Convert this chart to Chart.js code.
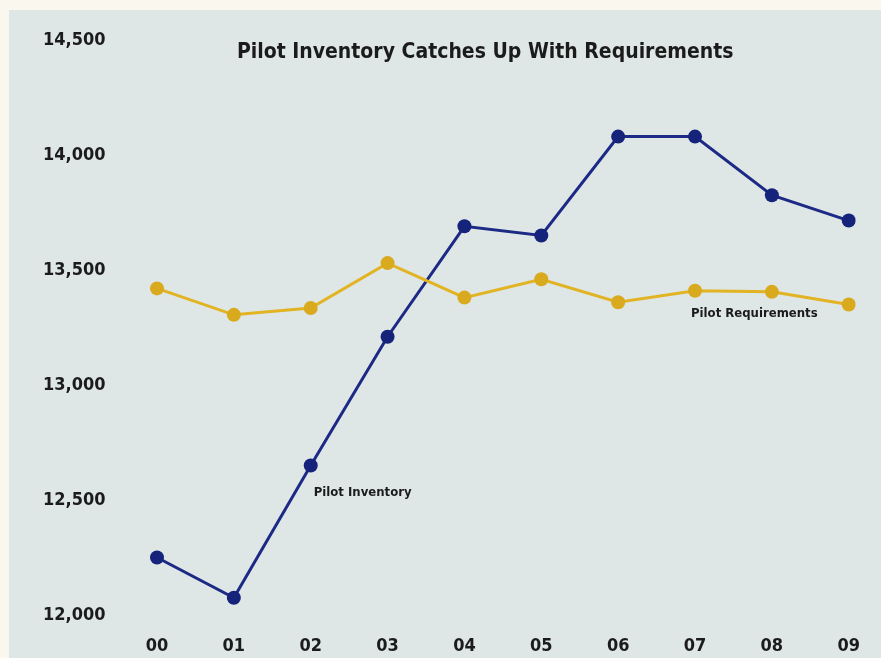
<!DOCTYPE html>
<html>
<head>
<meta charset="utf-8">
<script src="https://cdn.jsdelivr.net/npm/chart.js@4/dist/chart.umd.min.js"></script>
<style>
  html, body { margin: 0; padding: 0; background: #faf7ee; }
  #wrap {
    position: absolute; left: 9px; top: 10px;
    width: 872px; height: 648px;
    background: #dee7e6;
  }
</style>
</head>
<body>
<div id="wrap"><canvas id="pilotChart" width="872" height="648"></canvas></div>
<script>
var years = ['00', '01', '02', '03', '04', '05', '06', '07', '08', '09'];
var inventory = [12250, 12075, 12650, 13210, 13690, 13650, 14080, 14080, 13825, 13715];
var requirements = [13420, 13305, 13335, 13530, 13380, 13460, 13360, 13410, 13405, 13350];
var yTicks = [12000, 12500, 13000, 13500, 14000, 14500];

var FONT = '"Liberation Sans Narrow", "DejaVu Sans Condensed", "Roboto Condensed", sans-serif';

// title and series names sit inside the plot, so draw them by hand
var textPlugin = {
    id: 'insideText',
    afterDraw: function (chart) {
        var ctx = chart.ctx;
        var x = chart.scales.x;
        var y = chart.scales.y;
        ctx.save();
        ctx.fillStyle = '#1b1b1b';
        ctx.textBaseline = 'middle';

        ctx.font = 'bold 21px ' + FONT;
        ctx.textAlign = 'center';
        ctx.fillText('Pilot Inventory Catches Up With Requirements', x.getPixelForValue(4.27), chart.chartArea.top + 13);

        ctx.font = 'bold 13px ' + FONT;
        ctx.textAlign = 'left';
        ctx.fillText('Pilot Inventory', x.getPixelForValue(2) + 3, y.getPixelForValue(12530));
        ctx.fillText('Pilot Requirements', x.getPixelForValue(7) - 4, y.getPixelForValue(13312));
        ctx.restore();
    }
};

var ctx = document.getElementById('pilotChart').getContext('2d');
var pilotChart = new Chart(ctx, {
    type: 'line',
    data: {
        labels: years,
        datasets: [{
            label: 'Pilot Requirements',
            data: requirements,
            borderColor: '#e2b424',
            backgroundColor: '#d9a91e',
            borderWidth: 3,
            pointRadius: 7,
            pointBorderWidth: 0,
            tension: 0
        }, {
            label: 'Pilot Inventory',
            data: inventory,
            borderColor: '#1c2a86',
            backgroundColor: '#15237a',
            borderWidth: 3,
            pointRadius: 7,
            pointBorderWidth: 0,
            tension: 0
        }]
    },
    options: {
        responsive: false,
        animation: false,
        layout: {
            padding: { left: 34, right: 32, top: 30, bottom: 0 }
        },
        plugins: {
            legend: { display: false },
            tooltip: { enabled: false }
        },
        scales: {
            x: {
                offset: false,
                grid: { display: false, drawTicks: false },
                border: { display: false },
                ticks: {
                    color: '#1b1b1b',
                    padding: 21,
                    maxRotation: 0,
                    font: { family: FONT, size: 18, weight: 'bold' }
                },
                afterFit: function (scale) { scale.height = 43; }
            },
            y: {
                min: 12000,
                max: 14500,
                afterBuildTicks: function (scale) {
                    scale.ticks = yTicks.map(function (v) { return { value: v }; });
                },
                grid: { display: false, drawTicks: false },
                border: { display: false },
                ticks: {
                    color: '#1b1b1b',
                    crossAlign: 'far',
                    font: { family: FONT, size: 18, weight: 'bold' },
                    callback: function (v) { return v.toLocaleString('en-US'); }
                },
                afterFit: function (scale) { scale.width = 114; }
            }
        }
    },
    plugins: [textPlugin]
});
</script>
</body>
</html>
